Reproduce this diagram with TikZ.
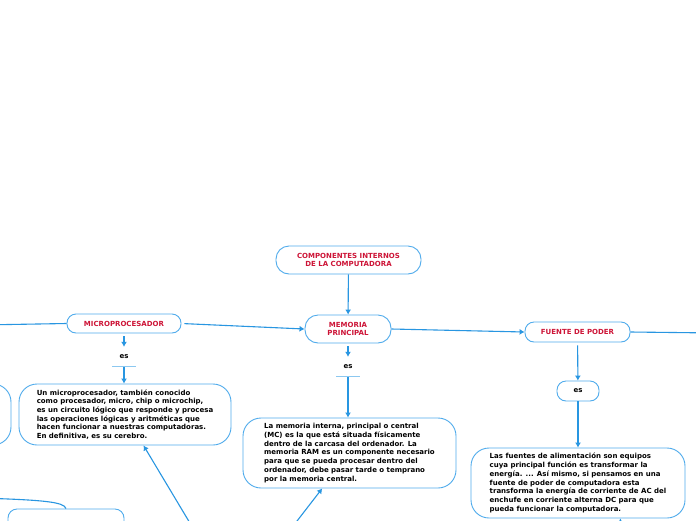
\documentclass[tikz,border=0pt]{standalone}
\usepackage{fontspec}
\setmainfont{DejaVu Sans}
\usepackage{tikz}
\usetikzlibrary{arrows.meta}
\definecolor{mapblue}{RGB}{40,150,225}
\definecolor{boxblue}{RGB}{80,172,236}
\definecolor{lineblue}{RGB}{140,200,240}
\definecolor{titlered}{RGB}{205,20,55}

\begin{document}
\begin{tikzpicture}[x=1pt, y=-1pt,
  topic/.style={draw=boxblue, line width=0.9pt, rounded corners=9pt, fill=white,
                font=\fontsize{7}{8.5}\selectfont\bfseries, text=titlered, align=center},
  body/.style={draw=boxblue, line width=0.9pt, rounded corners=18pt, fill=white,
               font=\fontsize{7}{8.7}\selectfont\bfseries, align=left},
  esnode/.style={font=\fontsize{7}{8}\selectfont\bfseries, minimum height=19pt, inner sep=0pt},
  link/.style={mapblue, line width=1.1pt},
  arr/.style={link, -{Latex[length=5pt,width=6pt]}},
  uline/.style={lineblue, line width=1pt}]

\useasboundingbox (0,0) rectangle (696,520);
\clip (0,0) rectangle (696,520);
\fill[white] (0,0) rectangle (696,520);

% central topic
\node[topic, minimum width=145pt, minimum height=28pt, rounded corners=13pt] (comp) at (348.5,260)
  {COMPONENTES INTERNOS\\DE LA COMPUTADORA};

% main branches
\node[topic, minimum width=114pt, minimum height=19pt] (micro) at (124,323.5) {MICROPROCESADOR};
\node[topic, minimum width=86pt, minimum height=28pt, rounded corners=13pt] (mem) at (348,329)
  {MEMORIA\\PRINCIPAL};
\node[topic, minimum width=105pt, minimum height=20pt] (fuente) at (577.5,332) {FUENTE DE PODER};

% linking words
\node[esnode, minimum width=23pt] (esmicro) at (124,356.5) {es};
\node[esnode, minimum width=23pt] (esmem) at (348,366.5) {es};
\node[esnode, draw=boxblue, line width=0.9pt, rounded corners=9pt,
      minimum width=42pt, minimum height=20pt] (esfuente) at (578,391) {es};
\draw[uline] (esmicro.south west) -- (esmicro.south east);
\draw[uline] (esmem.south west) -- (esmem.south east);

% definitions
\node[body, minimum width=212pt, minimum height=61pt] (micbody) at (125,414.5)
  {Un microprocesador, también conocido\\como procesador, micro, chip o microchip,\\es un circuito lógico que responde y procesa\\las operaciones lógicas y aritméticas que\\hacen funcionar a nuestras computadoras.\\En definitiva, es su cerebro.};
\node[body, minimum width=213pt, minimum height=70pt] (membody) at (349.5,453)
  {La memoria interna, principal o central\\(MC) es la que está situada físicamente\\dentro de la carcasa del ordenador. La\\memoria RAM es un componente necesario\\para que se pueda procesar dentro del\\ordenador, debe pasar tarde o temprano\\por la memoria central.};
\node[body, minimum width=214pt, minimum height=70pt] (fbody) at (578,483)
  {Las fuentes de alimentación son equipos\\cuya principal función es transformar la\\energía. ... Así mismo, si pensamos en una\\fuente de poder de computadora esta\\transforma la energía de corriente de AC del\\enchufe en corriente alterna DC para que\\pueda funcionar la computadora.};

% boxes cut by the border
\node[body, minimum width=200pt, minimum height=61pt] (leftbox) at (-89,414.5) {};
\node[body, minimum width=116pt, minimum height=60pt, rounded corners=9pt] (lowbox) at (66,539) {};

% off-picture ends
\coordinate (leftin) at (-20,325);
\coordinate (rightout) at (716,333);
\coordinate (below) at (236,600);
\coordinate (fbelow) at (622,545);
\coordinate (lowin) at (-20,498);

% connectors
\draw[link] (leftin) -- (micro.west);
\draw[arr, shorten <=3pt] (micro.east) -- (mem.west);
\draw[arr] (mem.east) -- (fuente.west);
\draw[link] (fuente.east) -- (rightout);
\draw[arr] (comp) -- (mem);

\draw[arr, shorten <=3pt] (micro) -- (esmicro);
\draw[arr, shorten <=1pt] (esmicro) -- (esmicro |- micbody.north);
\draw[arr, shorten <=3pt] (mem) -- (esmem);
\draw[arr, shorten <=1pt] (esmem) -- (esmem |- membody.north);
\draw[arr, shorten <=3pt] (fuente) -- (esfuente);
\draw[arr] (esfuente) -- (esfuente |- fbody.north);

\draw[arr] (below) -- (micbody);
\draw[arr] (below) -- (membody);
\draw[arr] (fbelow) -- (fbody.-40);
\draw[link] (lowin) .. controls (45,500) and (64,502) .. (lowbox.north);

\end{tikzpicture}
\end{document}
